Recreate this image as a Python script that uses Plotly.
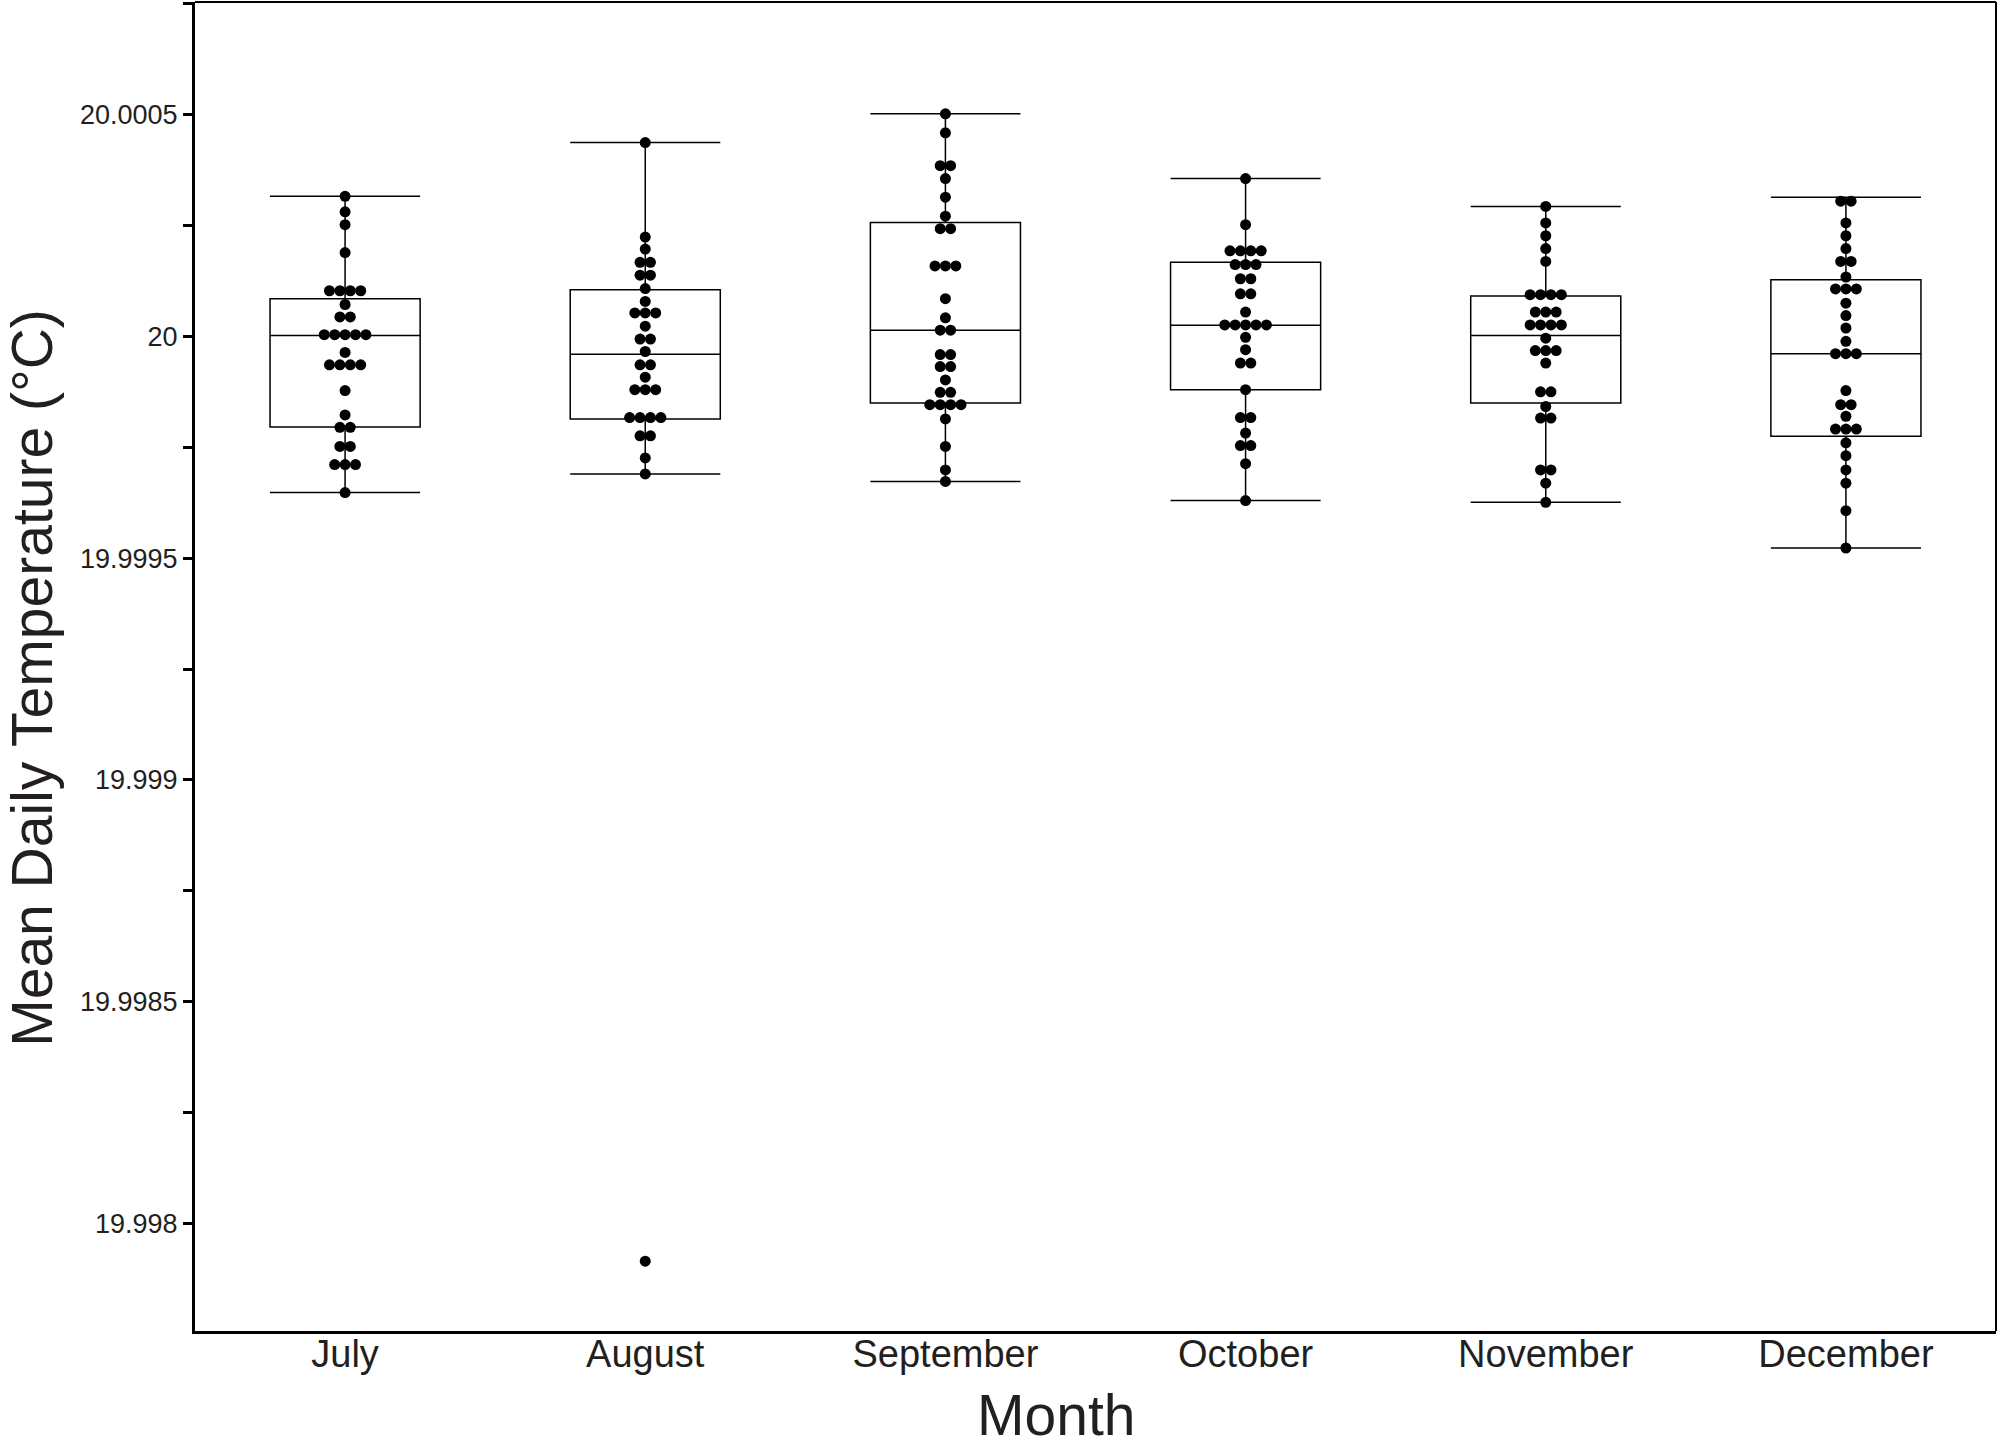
import plotly.graph_objects as go
from collections import Counter

months = ["July", "August", "September", "October", "November", "December"]

july = [20.000316, 20.000281, 20.000252, 20.000189,
        20.000103, 20.000103, 20.000103, 20.000103, 20.000072,
        20.000044, 20.000044,
        20.000004, 20.000004, 20.000004, 20.000004, 20.000004,
        19.999964, 19.999936, 19.999936, 19.999936, 19.999936,
        19.999878, 19.999823, 19.999795, 19.999795, 19.999752, 19.999752,
        19.999711, 19.999711, 19.999711, 19.999648]
august = [20.000437, 20.000224, 20.000197, 20.000167, 20.000167,
          20.000138, 20.000138, 20.000108, 20.000079,
          20.000053, 20.000053, 20.000053, 20.000023,
          19.999994, 19.999994, 19.999966, 19.999936, 19.999936, 19.999908,
          19.999880, 19.999880, 19.999880,
          19.999817, 19.999817, 19.999817, 19.999817,
          19.999776, 19.999776, 19.999726, 19.999690, 19.997915]
september = [20.000502, 20.000459, 20.000385, 20.000385, 20.000356, 20.000314,
             20.000271, 20.000243, 20.000243, 20.000159, 20.000159, 20.000159,
             20.000085, 20.000042, 20.000014, 20.000014,
             19.999959, 19.999959, 19.999932, 19.999932, 19.999902,
             19.999874, 19.999874, 19.999846, 19.999846, 19.999846, 19.999846,
             19.999814, 19.999752, 19.999699, 19.999673]
october = [20.000356, 20.000252, 20.000193, 20.000193, 20.000193, 20.000193,
           20.000162, 20.000162, 20.000162, 20.000130, 20.000130,
           20.000096, 20.000096, 20.000055,
           20.000026, 20.000026, 20.000026, 20.000026, 20.000026,
           19.999998, 19.999970, 19.999940, 19.999940, 19.999880,
           19.999817, 19.999817, 19.999782, 19.999754, 19.999754,
           19.999713, 19.999630]
november = [20.000293, 20.000256, 20.000227, 20.000198, 20.000169,
            20.000094, 20.000094, 20.000094, 20.000094,
            20.000055, 20.000055, 20.000055,
            20.000026, 20.000026, 20.000026, 20.000026,
            19.999996, 19.999968, 19.999968, 19.999968, 19.999940,
            19.999875, 19.999875, 19.999842, 19.999816, 19.999816,
            19.999699, 19.999699, 19.999669, 19.999626]
december = [20.000305, 20.000305, 20.000256, 20.000227, 20.000198,
            20.000169, 20.000169, 20.000134, 20.000107, 20.000107, 20.000107,
            20.000075, 20.000047, 20.000019, 19.999989,
            19.999961, 19.999961, 19.999961, 19.999878,
            19.999846, 19.999846, 19.999820,
            19.999791, 19.999791, 19.999791, 19.999760, 19.999731,
            19.999699, 19.999669, 19.999607, 19.999523]

# box statistics
upper_whisker = [20.000316, 20.000437, 20.000502, 20.000356, 20.000293, 20.000314]
q3_values = [20.000085, 20.000105, 20.000257, 20.000167, 20.000091, 20.000128]
median_values = [20.000002, 19.999960, 20.000014, 20.000025, 20.000002, 19.999961]
q1_values = [19.999796, 19.999814, 19.999850, 19.999880, 19.999850, 19.999775]
lower_whisker = [19.999648, 19.999690, 19.999673, 19.999630, 19.999626, 19.999523]

ytick_vals = [19.998, 19.9985, 19.999, 19.9995, 20.0, 20.0005]
ytick_text = ["19.998", "19.9985", "19.999", "19.9995", "20", "20.0005"]
yminor_vals = [19.99775, 19.99825, 19.99875, 19.99925, 19.99975, 20.00025, 20.00075]

series = [july, august, september, october, november, december]
positions = list(range(len(months)))

FONT = "Liberation Sans, Arial, sans-serif"
TXT = "#231f20"
DOT_STEP = 0.0347

fig = go.Figure()

fig.add_trace(go.Box(
    x=positions, q1=q1_values, median=median_values, q3=q3_values,
    lowerfence=lower_whisker, upperfence=upper_whisker,
    width=0.5, whiskerwidth=1, boxpoints=False,
    line=dict(color="black", width=1.5), fillcolor="white",
    showlegend=False, hoverinfo="skip"))

xs, ys = [], []
for pos, vals in zip(positions, series):
    counts = Counter(vals)
    for v, k in counts.items():
        for j in range(k):
            xs.append(pos + (j - (k - 1) / 2) * DOT_STEP)
            ys.append(v)

fig.add_trace(go.Scatter(
    x=xs, y=ys, mode="markers",
    marker=dict(color="black", size=11, line=dict(width=0)),
    showlegend=False, cliponaxis=False))

fig.update_layout(
    width=2000, height=1448,
    margin=dict(l=195, r=4, t=2, b=117),
    paper_bgcolor="white", plot_bgcolor="white",
    font=dict(family=FONT, color=TXT),
    shapes=[
        dict(type="line", xref="paper", yref="paper", x0=0, x1=1, y0=1, y1=1,
             line=dict(color="black", width=2)),
        dict(type="line", xref="paper", yref="paper", x0=1, x1=1, y0=0, y1=1,
             line=dict(color="black", width=2)),
    ],
    annotations=[
        dict(text="Mean Daily Temperature (°C)", xref="paper", yref="paper",
             x=-0.0905, y=0.4915, xanchor="center", yanchor="middle",
             textangle=-90, showarrow=False, font=dict(size=57, family=FONT, color=TXT)),
        dict(text="Month", xref="paper", yref="paper",
             x=0.4778, y=-0.0635, xanchor="center", yanchor="middle",
             showarrow=False, font=dict(size=57, family=FONT, color=TXT)),
    ],
)

fig.update_xaxes(
    range=[-0.5, 5.5], tickmode="array", tickvals=positions, ticktext=months,
    ticks="", showgrid=False, zeroline=False, ticklabelstandoff=-13,
    showline=True, linecolor="black", linewidth=3,
    tickfont=dict(size=38, family=FONT, color=TXT))

fig.update_yaxes(
    range=[19.9977576, 20.000754], tickmode="array",
    tickvals=ytick_vals, ticktext=ytick_text,
    ticks="outside", ticklen=9, tickwidth=2.5, tickcolor="black",
    minor=dict(tickvals=yminor_vals, ticks="outside", ticklen=9, tickwidth=2.5,
               tickcolor="black", showgrid=False),
    showgrid=False, zeroline=False,
    showline=True, linecolor="black", linewidth=3,
    tickfont=dict(size=27, family=FONT, color=TXT))

fig.write_html("out.html", config={"displayModeBar": False},
               post_script="document.body.style.margin='0px';")
